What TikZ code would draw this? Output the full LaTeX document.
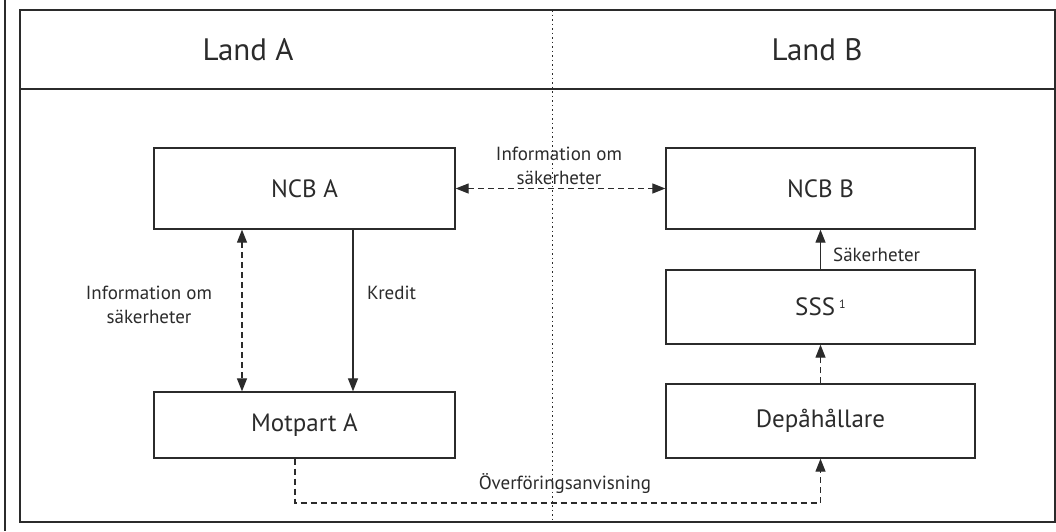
\documentclass[tikz,border=0pt]{standalone}
\usepackage{fontspec}
\setmainfont{PT Sans}
\usetikzlibrary{arrows.meta}
\definecolor{ink}{HTML}{2B2B2B}
\tikzset{
  box/.style={draw=ink, line width=1.3pt, rectangle, inner sep=0pt, font=\fontsize{25}{28}\selectfont, text=ink},
  lbl/.style={font=\fontsize{19}{24}\selectfont, text=ink, align=center, inner sep=0pt},
  hdr/.style={font=\fontsize{31}{34}\selectfont, text=ink, inner sep=0pt},
  conn/.style={draw=ink, line width=1.2pt},
  dsh/.style={conn, dash pattern=on 6pt off 4pt},
  tip/.style={-{Triangle[length=13pt,width=10pt]}},
  tips/.style={{Triangle[length=13pt,width=10pt]}-{Triangle[length=13pt,width=10pt]}},
}
\begin{document}
\begin{tikzpicture}[x=1pt,y=-1pt]
\useasboundingbox (0,0) rectangle (1056,531);
% frame
\draw[ink, line width=1.4pt] (5,0) -- (5,531);
\draw[ink, line width=1.4pt] (20,10) rectangle (1055,522);
\draw[ink, line width=1.4pt] (20,89) -- (1055,89);
\draw[ink, line width=0.9pt, dash pattern=on 1.5pt off 3pt] (552,10) -- (552,522);
% headers
\node[hdr] (landa) at (248,50) {Land A};
\node[hdr] (landb) at (817,50) {Land B};
% boxes
\node[box, minimum width=301pt, minimum height=81pt] (ncba) at (304.5,188.5) {NCB A};
\node[box, minimum width=301pt, minimum height=66pt] (mota) at (304.5,425) {Motpart A};
\node[box, minimum width=309pt, minimum height=81pt] (ncbb) at (820.5,188.5) {NCB B};
\node[box, minimum width=309pt, minimum height=74pt] (sss) at (820.5,307) {SSS\,\raisebox{0.55ex}{\fontsize{12}{12}\selectfont 1}};
\node[box, minimum width=309pt, minimum height=74pt] (dep) at (820.5,421) {Depåhållare};
% x positions
\coordinate (xl) at (242,0);
\coordinate (xk) at (353,0);
\coordinate (xo) at (295,0);
\coordinate (xr) at (820.5,0);
\coordinate (ybot) at (0,503);
% NCB A <-> NCB B
\draw[dsh, tips] (ncba.east) -- (ncbb.west);
\node[lbl] (info1) at (559,166) {Information om\\säkerheter};
% left info
\draw[dsh, tips] (ncba.south -| xl) -- (mota.north -| xl);
\node[lbl] (info2) at (149,305) {Information om\\säkerheter};
% Kredit
\draw[conn, tip] (ncba.south -| xk) -- (mota.north -| xk);
\node[lbl, anchor=west] (kred) at (367,293) {Kredit};
% Säkerheter
\draw[conn, tip] (sss.north) -- (ncbb.south);
\node[lbl, anchor=west] (sak) at (833,255) {Säkerheter};
% Dep -> SSS
\draw[dsh, tip] (dep.north) -- (sss.south);
% Overforing
\draw[dsh, tip] (mota.south -| xo) -- (xo |- ybot) -- (xr |- ybot) -- (dep.south);
\node[lbl] (overf) at (565,484) {Överföringsanvisning};
\end{tikzpicture}
\end{document}
